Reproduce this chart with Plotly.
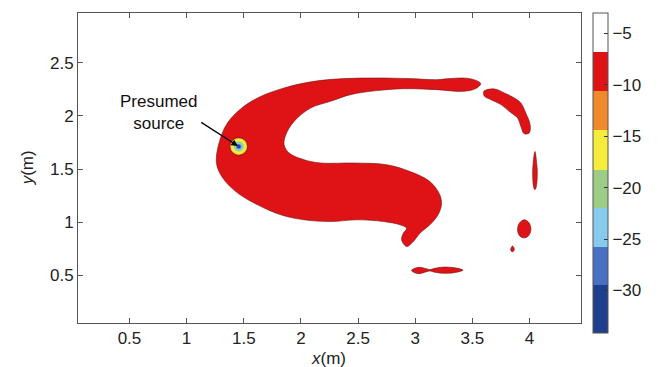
import plotly.graph_objects as go

# ---------------- data ----------------
# contour levels (colour band boundaries) and band colours
levels = [-34.1, -29.45, -25.79, -22.0, -18.21, -14.39, -10.58, -6.79, -3.0]
band_colors = ['#1d3f8e', '#4a70c4', '#86cbed', '#9ccc86', '#f5ec3c', '#ee8a2c', '#df1216', '#ffffff']
cbar_ticks = [-30, -25, -20, -15, -10, -5]

# main plume (-10.6 .. -6.8 band) outline
main_x = [1.260, 1.332, 1.447, 1.621, 1.853, 2.114, 2.374, 2.664, 2.954, 3.185,
          3.301, 3.417, 3.513, 3.573, 3.530, 3.417, 3.185, 2.896, 2.664, 2.433,
          2.259, 2.085, 1.940, 1.868, 1.853, 1.897, 2.027, 2.172, 2.461, 2.751,
          2.954, 3.128, 3.215, 3.229, 3.200, 3.128, 3.041, 2.983, 2.924, 2.881,
          2.896, 2.924, 2.867, 2.722, 2.490, 2.259, 2.027, 1.824, 1.621, 1.447, 1.317]
main_y = [1.572, 1.887, 2.043, 2.170, 2.264, 2.326, 2.352, 2.358, 2.352, 2.342,
          2.352, 2.358, 2.342, 2.305, 2.258, 2.232, 2.248, 2.257, 2.239, 2.201,
          2.138, 2.075, 1.949, 1.824, 1.729, 1.651, 1.588, 1.557, 1.557, 1.541,
          1.477, 1.383, 1.258, 1.163, 1.069, 0.975, 0.896, 0.817, 0.770, 0.833,
          0.896, 0.943, 0.975, 1.006, 1.022, 1.006, 1.022, 1.069, 1.163, 1.274, 1.415]

# right arc patch
arc_x = [3.600, 3.692, 3.779, 3.866, 3.924, 3.967, 4.005, 3.997, 3.953, 3.924,
         3.895, 3.823, 3.750, 3.663, 3.606]
arc_y = [2.232, 2.255, 2.217, 2.170, 2.123, 2.028, 1.918, 1.840, 1.833, 1.902,
         1.981, 2.043, 2.107, 2.154, 2.185]

# vertical sliver
sliver_x = [4.047, 4.063, 4.068, 4.058, 4.047, 4.036, 4.027, 4.031]
sliver_y = [1.666, 1.550, 1.450, 1.330, 1.305, 1.330, 1.450, 1.550]

# small oval
oval_x = [3.953, 3.995, 4.012, 3.990, 3.950, 3.910, 3.895, 3.910]
oval_y = [1.022, 0.995, 0.930, 0.870, 0.852, 0.875, 0.930, 0.990]

# tiny dot
dot_x = [3.851, 3.866, 3.862, 3.851, 3.838, 3.836]
dot_y = [0.775, 0.750, 0.728, 0.722, 0.728, 0.750]

# bottom double-lobed patch
low_x = [2.968, 2.995, 3.040, 3.090, 3.130, 3.170, 3.250, 3.330, 3.390, 3.417,
         3.390, 3.330, 3.250, 3.170, 3.130, 3.090, 3.040, 2.995]
low_y = [0.545, 0.565, 0.575, 0.563, 0.553, 0.565, 0.577, 0.572, 0.560, 0.548,
         0.535, 0.522, 0.518, 0.528, 0.540, 0.530, 0.515, 0.523]

# presumed source: location and nested level values (outer -> inner)
src_x, src_y = 1.456, 1.713
src_levels = [-12.5, -16.3, -20.1, -23.9, -27.6, -31.8]
label_x, label_y = 0.754, 2.036
arrow_tail_x, arrow_tail_y = 1.115, 1.949

x_ticks = [0.5, 1, 1.5, 2, 2.5, 3, 3.5, 4]
y_ticks = [0.5, 1, 1.5, 2, 2.5]
x_range = [0.05, 4.45]
y_range = [0.05, 2.97]

# ---------------- figure ----------------
FONT = "Liberation Sans"
cmin, cmax = levels[0], levels[-1]
span = cmax - cmin
colorscale = []
for i, c in enumerate(band_colors):
    a = (levels[i] - cmin) / span
    b = (levels[i + 1] - cmin) / span
    colorscale.append([a, c])
    colorscale.append([b, c])

red = band_colors[6]
edge = 'rgba(110,20,20,0.75)'

fig = go.Figure()

def patch(xs, ys):
    fig.add_trace(go.Scatter(
        x=xs + xs[:1], y=ys + ys[:1], mode='lines', fill='toself',
        fillcolor=red, line=dict(color=edge, width=0.8, shape='spline', smoothing=1.0),
        hoverinfo='skip', showlegend=False))

for xs, ys in [(main_x, main_y), (arc_x, arc_y), (sliver_x, sliver_y),
               (oval_x, oval_y), (dot_x, dot_y), (low_x, low_y)]:
    patch(xs, ys)

ring_sizes = [18, 16, 10, 8, 5, 3]
fig.add_trace(go.Scatter(
    x=[src_x] * len(src_levels), y=[src_y] * len(src_levels), mode='markers',
    marker=dict(size=ring_sizes, color=src_levels, colorscale=colorscale,
                cmin=cmin, cmax=cmax, opacity=1,
                line=dict(width=[1, 0, 0, 0, 0, 0], color='rgba(120,20,20,0.8)'),
                showscale=True,
                colorbar=dict(
                    x=(596 - 78) / 506, xanchor='left', xpad=0,
                    y=(323 - 12.7) / 310, yanchor='top', ypad=0,
                    len=320, lenmode='pixels', thickness=15, thicknessmode='pixels',
                    outlinecolor='#555', outlinewidth=1,
                    tickvals=cbar_ticks, ticks='inside', ticklen=4, tickcolor='#333',
                    tickfont=dict(family=FONT, size=17, color='#222'))),
    hoverinfo='skip', showlegend=False))

fig.add_annotation(x=src_x, y=src_y, ax=arrow_tail_x, ay=arrow_tail_y,
                   xref='x', yref='y', axref='x', ayref='y', text='',
                   showarrow=True, arrowhead=2, arrowsize=1, arrowwidth=1.3,
                   arrowcolor='black', standoff=1)
fig.add_annotation(x=label_x, y=label_y, xref='x', yref='y', text='Presumed<br>source',
                   showarrow=False, font=dict(family=FONT, size=17, color='#111'),
                   align='center')

fig.add_annotation(x=(330 - 78) / 506, y=(323 - 347) / 310, xref='paper', yref='paper',
                   yanchor='top', xanchor='center',
                   text='<i>x</i>(m)', showarrow=False,
                   font=dict(family=FONT, size=17, color='#222'))
fig.add_annotation(x=(27.5 - 78) / 506, y=(323 - 167.5) / 310, xref='paper', yref='paper',
                   xanchor='center', yanchor='middle',
                   text='<i>y</i>(m)', showarrow=False, textangle=-90,
                   font=dict(family=FONT, size=17, color='#222'))

axis_common = dict(showgrid=False, zeroline=False, showline=True, linecolor='#555',
                   linewidth=1, mirror='ticks', ticks='inside', ticklen=5,
                   tickcolor='#555', tickfont=dict(family=FONT, size=17, color='#222'))
fig.update_xaxes(range=x_range, tickvals=x_ticks, **axis_common)
fig.update_yaxes(range=y_range, tickvals=y_ticks, **axis_common)

fig.update_layout(width=658, height=367, margin=dict(l=78, r=74, t=13, b=44),
                  plot_bgcolor='white', paper_bgcolor='white', showlegend=False)

fig.write_html("out.html")
